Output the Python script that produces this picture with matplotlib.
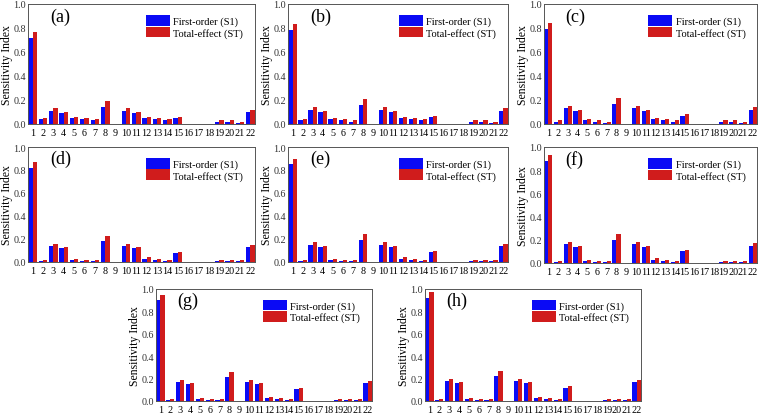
import matplotlib.pyplot as plt
import numpy as np

plt.rcParams['font.family'] = ['Liberation Serif', 'DejaVu Serif']

params = list(range(1, 23))

# first-order (S1) and total-effect (ST) per panel
s1_a = [0.72, 0.04, 0.11, 0.09, 0.05, 0.04, 0.03, 0.14, 0, 0.11, 0.09, 0.05, 0.04, 0.03, 0.05, 0, 0, 0, 0.02, 0.02, 0.01, 0.10]
st_a = [0.77, 0.05, 0.13, 0.10, 0.06, 0.05, 0.04, 0.19, 0, 0.13, 0.10, 0.06, 0.05, 0.04, 0.06, 0, 0, 0, 0.03, 0.03, 0.02, 0.12]
s1_b = [0.78, 0.03, 0.12, 0.10, 0.04, 0.03, 0.02, 0.16, 0, 0.12, 0.10, 0.05, 0.04, 0.03, 0.06, 0, 0, 0, 0.02, 0.02, 0.01, 0.11]
st_b = [0.83, 0.04, 0.14, 0.11, 0.05, 0.04, 0.03, 0.21, 0, 0.14, 0.11, 0.06, 0.05, 0.04, 0.07, 0, 0, 0, 0.03, 0.03, 0.02, 0.13]
s1_c = [0.79, 0.02, 0.13, 0.11, 0.03, 0.02, 0.01, 0.17, 0, 0.13, 0.11, 0.04, 0.03, 0.02, 0.07, 0, 0, 0, 0.02, 0.02, 0.01, 0.12]
st_c = [0.84, 0.03, 0.15, 0.12, 0.04, 0.03, 0.02, 0.22, 0, 0.15, 0.12, 0.05, 0.04, 0.03, 0.08, 0, 0, 0, 0.03, 0.03, 0.02, 0.14]
s1_d = [0.82, 0.01, 0.14, 0.12, 0.02, 0.01, 0.01, 0.18, 0, 0.14, 0.12, 0.03, 0.02, 0.01, 0.08, 0, 0, 0, 0.01, 0.01, 0.01, 0.13]
st_d = [0.87, 0.02, 0.16, 0.13, 0.03, 0.02, 0.02, 0.23, 0, 0.16, 0.13, 0.04, 0.03, 0.02, 0.09, 0, 0, 0, 0.02, 0.02, 0.02, 0.15]
s1_e = [0.85, 0.01, 0.15, 0.13, 0.02, 0.01, 0.01, 0.19, 0, 0.15, 0.13, 0.03, 0.02, 0.01, 0.09, 0, 0, 0, 0.01, 0.01, 0.01, 0.14]
st_e = [0.90, 0.02, 0.17, 0.14, 0.03, 0.02, 0.02, 0.24, 0, 0.17, 0.14, 0.04, 0.03, 0.02, 0.10, 0, 0, 0, 0.02, 0.02, 0.02, 0.16]
s1_f = [0.88, 0.01, 0.16, 0.14, 0.02, 0.01, 0.01, 0.20, 0, 0.16, 0.14, 0.03, 0.02, 0.01, 0.10, 0, 0, 0, 0.01, 0.01, 0.01, 0.15]
st_f = [0.93, 0.02, 0.18, 0.15, 0.03, 0.02, 0.02, 0.25, 0, 0.18, 0.15, 0.04, 0.03, 0.02, 0.11, 0, 0, 0, 0.02, 0.02, 0.02, 0.17]
s1_g = [0.90, 0.01, 0.17, 0.15, 0.02, 0.01, 0.01, 0.21, 0, 0.17, 0.15, 0.03, 0.02, 0.01, 0.11, 0, 0, 0, 0.01, 0.01, 0.01, 0.16]
st_g = [0.95, 0.02, 0.19, 0.16, 0.03, 0.02, 0.02, 0.26, 0, 0.19, 0.16, 0.04, 0.03, 0.02, 0.12, 0, 0, 0, 0.02, 0.02, 0.02, 0.18]
s1_h = [0.92, 0.01, 0.18, 0.16, 0.02, 0.01, 0.01, 0.22, 0, 0.18, 0.16, 0.03, 0.02, 0.01, 0.12, 0, 0, 0, 0.01, 0.01, 0.01, 0.17]
st_h = [0.97, 0.02, 0.20, 0.17, 0.03, 0.02, 0.02, 0.27, 0, 0.20, 0.17, 0.04, 0.03, 0.02, 0.13, 0, 0, 0, 0.02, 0.02, 0.02, 0.19]

labels = ['(a)', '(b)', '(c)', '(d)', '(e)', '(f)', '(g)', '(h)']
s1_all = [s1_a, s1_b, s1_c, s1_d, s1_e, s1_f, s1_g, s1_h]
st_all = [st_a, st_b, st_c, st_d, st_e, st_f, st_g, st_h]

W, H = 760, 414
# panel boxes in pixels: left, right, top, bottom
boxes = [(28, 255, 5, 125), (288, 508, 5, 125), (544, 757, 5, 125),
         (28, 255, 148, 263), (288, 508, 148, 263), (544, 757, 148, 264),
         (156, 372, 290, 402), (425, 641, 290, 402)]

fig = plt.figure(figsize=(W / 100, H / 100), dpi=100)
x = np.array(params)
bw = 0.42

for lab, s1, st, (l, r, t, b) in zip(labels, s1_all, st_all, boxes):
    ax = fig.add_axes([l / W, 1 - b / H, (r - l) / W, (b - t) / H])
    ax.bar(x - bw / 2, s1, bw, color='#0a0af5', label='First-order (S1)')
    ax.bar(x + bw / 2, st, bw, color='#d01c1c', label='Total-effect (ST)')
    ax.set_xlim(0.55, 22.45)
    ax.set_ylim(0, 1.0)
    ax.set_xticks(x)
    ax.set_xticklabels([str(p) for p in params], fontsize=7.3)
    ax.set_yticks(np.arange(0, 1.01, 0.2))
    ax.set_yticklabels(['%.1f' % v for v in np.arange(0, 1.01, 0.2)], fontsize=7.3, color='#333333')
    ax.tick_params(axis='both', length=0, pad=1.5)
    ax.tick_params(axis='x', pad=3)
    ax.set_ylabel('Sensitivity Index', fontsize=8.5, labelpad=0.5)
    for sp in ax.spines.values():
        sp.set_color('#555555')
        sp.set_linewidth(0.7)
    ax.text(0.1, 0.9, lab, transform=ax.transAxes, fontsize=13, va='center', ha='left')
    ax.legend(loc='upper right', bbox_to_anchor=(0.975, 0.96), frameon=False, fontsize=7.5,
              handlelength=2.3, handleheight=1.2, handletextpad=0.3, labelspacing=0.05,
              borderaxespad=0.2)

plt.savefig('out.png', dpi=100)
